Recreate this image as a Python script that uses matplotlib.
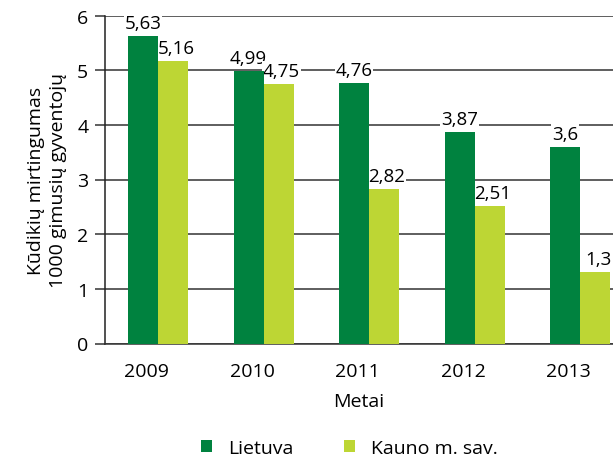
import matplotlib
matplotlib.use("Agg")
import matplotlib.pyplot as plt
import numpy as np

plt.rcParams['font.family'] = ['Open Sans', 'DejaVu Sans']

years = ['2009', '2010', '2011', '2012', '2013']
lietuva = [5.63, 4.99, 4.76, 3.87, 3.6]
kaunas = [5.16, 4.75, 2.82, 2.51, 1.3]
labels_lt = ['5,63', '4,99', '4,76', '3,87', '3,6']
labels_ka = ['5,16', '4,75', '2,82', '2,51', '1,3']

c_dark = '#00823F'
c_light = '#BDD634'
fs = 14

fig = plt.figure(figsize=(6.13, 4.60), dpi=100)
ax = fig.add_axes([105/613, 1 - 344.5/460, 508/613, 328/460])

x = np.arange(len(years))
w = 0.284
ax.bar(x - w/2, lietuva, w, color=c_dark, label='Lietuva', zorder=3)
ax.bar(x + w/2, kaunas, w, color=c_light, label='Kauno m. sav.', zorder=3)

for xi, v, t in zip(x - w/2, lietuva, labels_lt):
    ax.annotate(t, (xi, v), xytext=(0, 3), textcoords='offset points',
                ha='center', va='bottom', fontsize=13.5, zorder=2,
                bbox=dict(facecolor='white', edgecolor='none', pad=0.5))
for xi, v, t in zip(x + w/2, kaunas, labels_ka):
    ax.annotate(t, (xi, v), xytext=(2, 3), textcoords='offset points',
                ha='center', va='bottom', fontsize=13.5, zorder=2,
                bbox=dict(facecolor='white', edgecolor='none', pad=0.5))

ax.set_ylim(0, 6)
ax.set_xlim(-0.502, 4.31)
ax.set_yticks(range(7))
ax.set_xticks(x - 0.11)
ax.set_xticklabels(years)
ax.yaxis.grid(True, color='#333333', linewidth=1.1, zorder=0)
ax.set_axisbelow(True)

for s in ['top', 'right']:
    ax.spines[s].set_visible(False)
ax.spines['left'].set_color('#222222')
ax.spines['bottom'].set_color('#333333')
ax.spines['left'].set_linewidth(1.1)
ax.spines['bottom'].set_linewidth(1.1)

ax.tick_params(axis='y', length=7, width=1.1, color='#333333', pad=5, labelsize=fs)
ax.tick_params(axis='x', length=0, pad=13, labelsize=fs)

ax.set_xlabel('Metai', fontsize=fs, labelpad=9)
ax.set_ylabel('Kūdikių mirtingumas\n1000 gimusių gyventojų', fontsize=fs, labelpad=7,
              linespacing=1.3)

fig.legend(loc='center', bbox_to_anchor=(0.57, 0.024), ncol=2, frameon=False,
           fontsize=fs, handlelength=0.55, handleheight=0.55, handletextpad=0.85,
           columnspacing=2.6, borderpad=0)

fig.savefig('out.png', dpi=100)
